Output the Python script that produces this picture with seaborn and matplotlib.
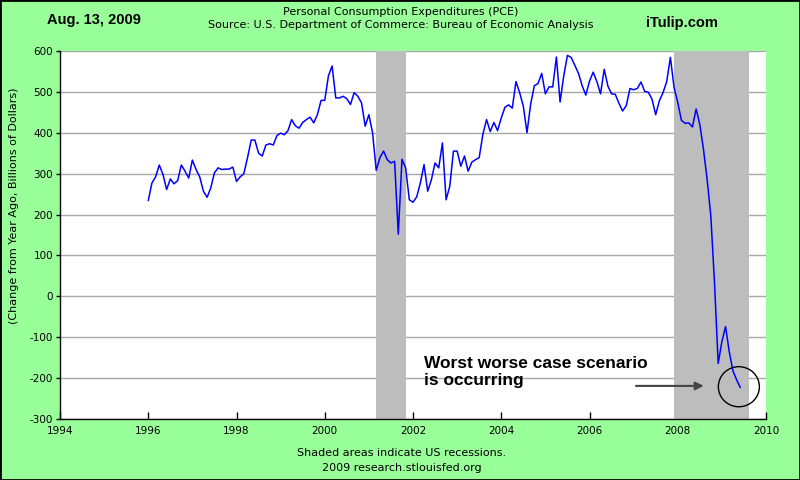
import pandas as pd
import seaborn as sns
import matplotlib.pyplot as plt
from matplotlib.patches import Ellipse, Rectangle

# PCE, change from year ago (billions of dollars), monthly from Jan 1996 to Jun 2009
first_month = '1996-01'
pce_change = [
    234, 277, 292, 321, 298, 261, 287, 275, 283, 321, 306, 289,   # 1996
    333, 310, 292, 257, 242, 265, 302, 314, 310, 311, 311, 316,   # 1997
    281, 292, 300, 339, 382, 382, 350, 343, 370, 373, 370, 393,   # 1998
    399, 395, 405, 432, 417, 411, 425, 432, 438, 424, 444, 479,   # 1999
    479, 539, 563, 485, 485, 489, 483, 469, 498, 489, 473, 416,   # 2000
    444, 400, 308, 339, 355, 334, 326, 330, 152, 335, 314, 236,   # 2001
    230, 243, 277, 322, 257, 285, 326, 314, 375, 236, 269, 355,   # 2002
    355, 318, 343, 306, 328, 334, 339, 396, 432, 403, 425, 405,   # 2003
    436, 462, 468, 460, 525, 498, 465, 400, 470, 515, 520, 545,   # 2004
    495, 512, 512, 585, 475, 539, 589, 584, 565, 545, 515, 492,   # 2005
    526, 548, 525, 495, 555, 514, 495, 494, 472, 453, 466, 508,   # 2006
    505, 508, 524, 501, 499, 482, 444, 478, 498, 525, 584, 510,   # 2007
    474, 430, 423, 424, 414, 458, 420, 359, 285, 196, 32, -164,   # 2008
    -111, -74, -135, -182, -204, -223,                            # 2009
]

# US recessions (decimal years)
rec_start = [2001.167, 2007.917]
rec_end = [2001.833, 2009.62]

x_ticks = list(range(1994, 2011, 2))
y_ticks = list(range(-300, 601, 100))

months = pd.date_range(first_month, periods=len(pce_change), freq='MS')
df = pd.DataFrame({'year': months.year + (months.month - 1) / 12, 'pce': pce_change})

sns.set_style('white')
plt.rcParams['font.family'] = ['DejaVu Sans']
plt.rcParams['axes.unicode_minus'] = False
plt.rcParams['text.color'] = 'black'
plt.rcParams['xtick.color'] = 'black'
plt.rcParams['ytick.color'] = 'black'

bg = '#99ff99'
fig = plt.figure(figsize=(8, 4.8), dpi=100, facecolor=bg)
ax = fig.add_axes([0.075, 0.127, 0.8825, 0.767])
ax.set_facecolor('white')

# recession shading
for s, e in zip(rec_start, rec_end):
    ax.axvspan(s, e, color='#bdbdbd', lw=0, zorder=1)

sns.lineplot(data=df, x='year', y='pce', color='#0000ff', lw=1.1, ax=ax, zorder=3)

ax.set_xlim(1994, 2010)
ax.set_ylim(-300, 600)
ax.set_xticks(x_ticks)
ax.set_yticks(y_ticks)
ax.set_xlabel('')
ax.set_ylabel('')
ax.set_axisbelow(True)
ax.yaxis.grid(True, color='#a8a8a8', lw=1)
ax.xaxis.grid(False)
for side in ['top', 'right']:
    ax.spines[side].set_visible(False)
for side in ['left', 'bottom']:
    ax.spines[side].set_color('black')
    ax.spines[side].set_linewidth(1)
ax.tick_params(axis='x', direction='in', length=5, width=1, colors='black', labelsize=7.5, pad=5)
ax.tick_params(axis='y', direction='out', length=3, width=1, colors='black', labelsize=7.5, pad=2)
ax.tick_params(left=True, bottom=True)

# annotation
ax.text(2002.25, -146, 'Worst worse case scenario\nis occurring', fontsize=12.5,
        fontweight='bold', family='Liberation Sans', va='top', ha='left',
        linespacing=1.2, color='black')
ax.annotate('', xy=(2008.65, -219), xytext=(2006.99, -219),
            arrowprops=dict(arrowstyle='-|>', color='#444444', lw=1.5, mutation_scale=12))
ax.add_patch(Ellipse((2009.385, -221), width=0.93, height=98, fill=False,
                     edgecolor='black', lw=1, zorder=4))

# header / footer texts
fig.text(94 / 800, 1 - 20 / 480, 'Aug. 13, 2009', fontsize=10.5, fontweight='bold',
         family='Liberation Sans', ha='center', va='center')
fig.text(682 / 800, 1 - 23 / 480, 'iTulip.com', fontsize=10.5, fontweight='bold',
         family='Liberation Sans', ha='center', va='center')
fig.text(401 / 800, 1 - 12 / 480, 'Personal Consumption Expenditures (PCE)',
         fontsize=8, ha='center', va='center')
fig.text(401 / 800, 1 - 25 / 480, 'Source: U.S. Department of Commerce: Bureau of Economic Analysis',
         fontsize=8, ha='center', va='center')
fig.text(14 / 800, 1 - 206 / 480, '(Change from Year Ago, Billions of Dollars)',
         fontsize=8, rotation=90, ha='center', va='center')
fig.text(402 / 800, 1 - 453 / 480, 'Shaded areas indicate US recessions.',
         fontsize=8, ha='center', va='center')
fig.text(402 / 800, 1 - 468 / 480, '2009 research.stlouisfed.org',
         fontsize=8, ha='center', va='center')

# thin black frame round the figure
fig.patches.append(Rectangle((0, 0), 1, 1, transform=fig.transFigure, fill=False,
                             edgecolor='black', lw=2))

fig.savefig('out.png', dpi=100, facecolor=bg)
